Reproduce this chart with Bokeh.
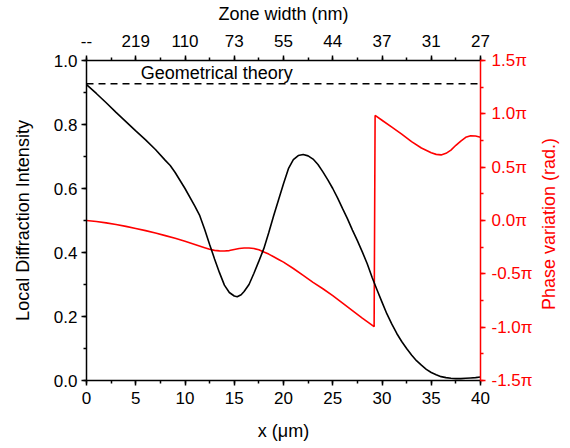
from bokeh.plotting import figure
from bokeh.layouts import row
from bokeh.models import (LinearAxis, Range1d, SingleIntervalTicker, Span, Label,
                          PrintfTickFormatter)
from bokeh.embed import file_html
from bokeh.resources import INLINE

# ---- data ----
x_intensity = [0, 1, 2, 3, 4, 5, 6, 7, 8, 8.5, 9, 10, 11, 11.5, 12, 12.5, 13, 13.5,
               14, 14.5, 15, 15.3, 15.7, 16, 16.5, 17, 17.5, 18, 18.5, 19, 19.5, 20,
               20.5, 21, 21.5, 22, 22.5, 23, 23.5, 24, 24.5, 25, 25.5, 26, 26.5, 27,
               27.5, 28, 28.5, 29, 29.5, 30, 30.5, 31, 31.5, 32, 32.5, 33, 33.5, 34,
               34.5, 35, 35.5, 36, 36.5, 37, 37.5, 38, 38.5, 39, 39.5, 40]
intensity = [0.925, 0.897, 0.868, 0.838, 0.809, 0.780, 0.752, 0.722, 0.688, 0.672,
             0.650, 0.600, 0.545, 0.515, 0.472, 0.425, 0.380, 0.337, 0.298, 0.275,
             0.264, 0.262, 0.268, 0.278, 0.300, 0.335, 0.373, 0.412, 0.462, 0.515,
             0.565, 0.615, 0.662, 0.690, 0.703, 0.706, 0.702, 0.692, 0.675, 0.652,
             0.627, 0.600, 0.570, 0.537, 0.505, 0.470, 0.437, 0.402, 0.365, 0.322,
             0.283, 0.245, 0.208, 0.176, 0.147, 0.122, 0.100, 0.080, 0.062, 0.048,
             0.035, 0.025, 0.018, 0.012, 0.009, 0.007, 0.006, 0.006, 0.007, 0.008,
             0.009, 0.011]

x_phase = [0, 1, 2, 3, 4, 5, 6, 7, 8, 9, 10, 11, 12, 12.5, 13, 13.5, 14, 14.5, 15,
           15.5, 16, 16.5, 17, 17.5, 18, 18.5, 19, 19.5, 20, 21, 22, 23, 24, 25, 26,
           27, 28, 29.2, 29.3, 30, 31, 32, 33, 34, 35, 35.5, 36, 36.5, 37, 37.5, 38,
           38.5, 39, 39.5, 40]
phase_pi = [0.0, -0.010, -0.022, -0.037, -0.055, -0.075, -0.095, -0.118, -0.142,
            -0.167, -0.195, -0.225, -0.255, -0.270, -0.280, -0.285, -0.286, -0.282,
            -0.272, -0.263, -0.258, -0.258, -0.263, -0.275, -0.295, -0.315, -0.340,
            -0.365, -0.390, -0.450, -0.515, -0.580, -0.640, -0.705, -0.775, -0.845,
            -0.915, -0.995, 0.985, 0.940, 0.875, 0.810, 0.740, 0.680, 0.635, 0.620,
            0.615, 0.630, 0.660, 0.705, 0.745, 0.780, 0.795, 0.792, 0.780]

geometrical_theory = 0.927
x_ticks = [0, 5, 10, 15, 20, 25, 30, 35, 40]
zone_width_labels = ["--", "219", "110", "73", "55", "44", "37", "31", "27"]
phase_ticks = [-1.5, -1.0, -0.5, 0.0, 0.5, 1.0, 1.5]
phase_labels = ["-1.5π", "-1.0π", "-0.5π", "0.0π", "0.5π", "1.0π", "1.5π"]

FONT = "Liberation Sans"
RED = "#ff0000"

MAIN_W, STRIP_W, H = 535, 35, 448

p = figure(width=MAIN_W, height=H, output_backend="svg", toolbar_location=None,
           x_range=Range1d(0, 40), y_range=Range1d(0, 1.0),
           min_border_left=86, min_border_right=54, min_border_top=60,
           min_border_bottom=68)
p.extra_y_ranges = {"phase": Range1d(-1.5, 1.5)}
p.grid.visible = False
p.outline_line_color = None
p.background_fill_color = "white"
p.border_fill_color = "white"


def style(ax, color, ticker, standoff, label_standoff):
    ax.ticker = ticker
    ax.axis_line_color = color
    ax.axis_line_width = 1.5
    ax.major_tick_line_color = color
    ax.major_tick_line_width = 1.5
    ax.minor_tick_line_color = color
    ax.minor_tick_line_width = 1.5
    ax.major_tick_out = 5
    ax.major_tick_in = 0
    ax.minor_tick_out = 3
    ax.minor_tick_in = 0
    ax.major_label_text_font = FONT
    ax.major_label_text_font_size = "17px"
    ax.major_label_text_color = color
    ax.major_label_standoff = standoff
    ax.axis_label_text_font = FONT
    ax.axis_label_text_font_size = "18px"
    ax.axis_label_text_font_style = "normal"
    ax.axis_label_text_color = color
    ax.axis_label_standoff = label_standoff


bottom = p.below[0]
style(bottom, "black", SingleIntervalTicker(interval=5, num_minor_ticks=2), 6, 14)
bottom.axis_label = "x (μm)"

left = p.left[0]
style(left, "black", SingleIntervalTicker(interval=0.2, num_minor_ticks=2), 4, 18)
left.formatter = PrintfTickFormatter(format="%.1f")
left.axis_label = "Local Diffraction Intensity"

top = LinearAxis(axis_label="Zone width (nm)")
style(top, "black", SingleIntervalTicker(interval=5, num_minor_ticks=2), 9, 8)
top.major_label_overrides = {t: lab for t, lab in zip(x_ticks, zone_width_labels)}
p.add_layout(top, "above")

right = LinearAxis(y_range_name="phase")
style(right, RED, SingleIntervalTicker(interval=0.5, num_minor_ticks=2), 6, 8)
right.major_label_overrides = {t: lab for t, lab in zip(phase_ticks, phase_labels)}
p.add_layout(right, "right")

p.add_layout(Span(location=geometrical_theory, dimension="width", line_color="black",
                  line_width=1.5, line_dash="7 5"))
p.add_layout(Label(x=5.5, y=0.96, text="Geometrical theory", text_font=FONT,
                   text_font_size="18px", text_baseline="alphabetic",
                   text_color="black"))

p.line(x_phase, phase_pi, y_range_name="phase", line_color=RED, line_width=1.6)
p.line(x_intensity, intensity, line_color="black", line_width=1.6)

# narrow strip holding the right-axis title, reading bottom-to-top
strip = figure(width=STRIP_W, height=H, output_backend="svg", toolbar_location=None,
               x_range=Range1d(0, STRIP_W), y_range=Range1d(0, H),
               x_axis_location=None, y_axis_location=None, min_border=0)
strip.grid.visible = False
strip.outline_line_color = None
strip.background_fill_color = "white"
strip.border_fill_color = "white"
strip.add_layout(Label(x=13.5, y=219, text="Phase variation (rad.)", angle=90,
                       angle_units="deg", text_align="center", text_baseline="middle",
                       text_font=FONT, text_font_size="18px", text_color=RED))

layout = row(p, strip)
open("out.html", "w").write(file_html(layout, INLINE))
